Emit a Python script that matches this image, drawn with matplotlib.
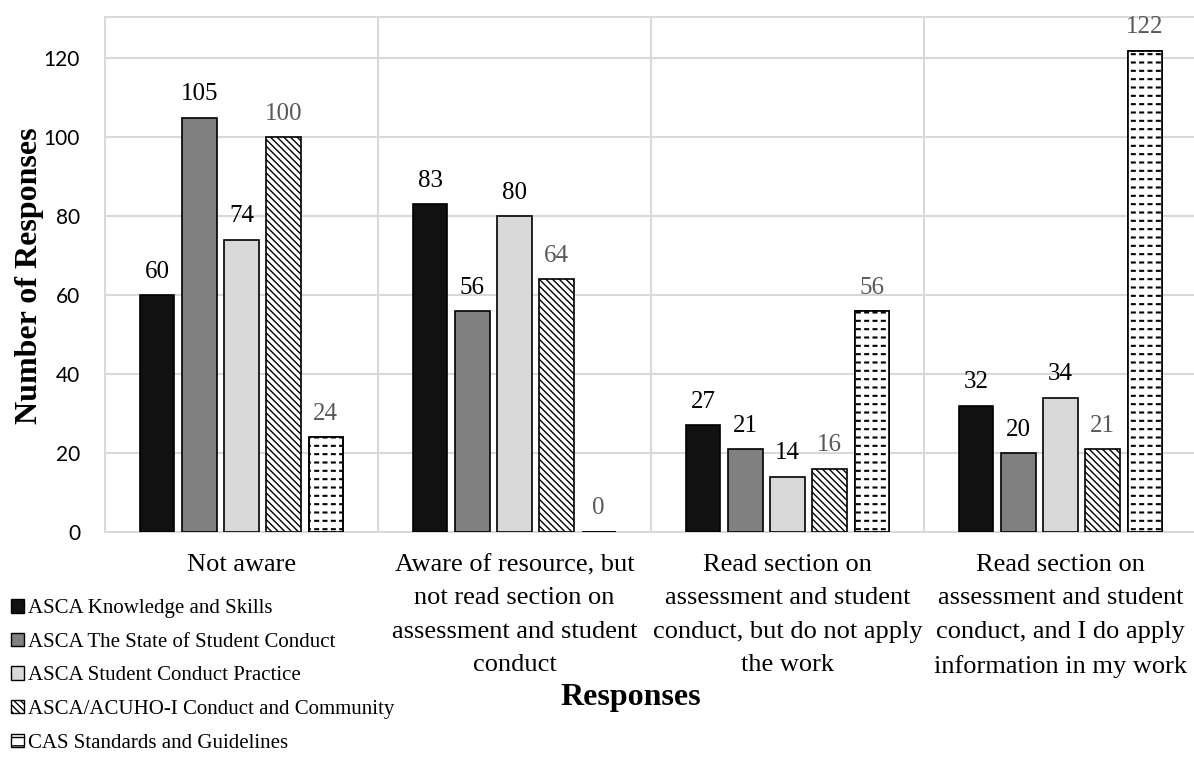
import numpy as np
import matplotlib
matplotlib.use("Agg")
import matplotlib.pyplot as plt
from matplotlib.patches import Patch

# responses per category for each resource
categories = ['Not aware',
              'Aware of resource, but\nnot read section on\nassessment and student\nconduct',
              'Read section on\nassessment and student\nconduct, but do not apply\nthe work',
              'Read section on\nassessment and student\nconduct, and I do apply\ninformation in my work']
series_names = ['ASCA Knowledge and Skills',
                'ASCA The State of Student Conduct',
                'ASCA Student Conduct Practice',
                'ASCA/ACUHO-I Conduct and Community',
                'CAS Standards and Guidelines']
knowledge = [60, 83, 27, 32]
state = [105, 56, 21, 20]
practice = [74, 80, 14, 34]
conduct_comm = [100, 64, 16, 21]
cas = [24, 0, 56, 122]
values = [knowledge, state, practice, conduct_comm, cas]

fills = ['#111111', '#808080', '#d9d9d9', 'white', 'white']
hatches = [None, None, None, '\\\\\\\\\\', '--']
label_colors = ['black', 'black', 'black', '#595959', '#595959']

serif = 'Liberation Serif'
sans = 'Lato'
plt.rcParams['font.family'] = serif

fig = plt.figure(figsize=(11.94, 7.57), dpi=100)
ax = fig.add_axes([105 / 1194, 1 - 532 / 757, 1092 / 1194, 515 / 757])

x = np.arange(len(categories))
step = 0.154
width = 0.125
plt.rcParams['hatch.linewidth'] = 1.0

for i, vals in enumerate(values):
    pos = x + (i - 2) * step
    bars = ax.bar(pos, vals, width, color=fills[i], edgecolor='black',
                  linewidth=1.2, hatch=hatches[i], zorder=3)
    if hatches[i] == '--':
        for b in bars:
            b.set_hatch_linewidth(1.5)
        # break the horizontal lines into dashes with white vertical strokes
        gaps = ax.bar(pos, vals, width, color='none', edgecolor='white',
                      linewidth=0, hatch='||', zorder=4)
        for g in gaps:
            g.set_hatch_linewidth(2.4)
        ax.bar(pos, vals, width, color='none', edgecolor='black',
               linewidth=1.2, zorder=5)
    for p, v in zip(pos, vals):
        ax.annotate(str(v), (p, v), xytext=(0, 9), textcoords='offset points',
                    ha='center', va='bottom', fontsize=18, fontfamily=serif,
                    color=label_colors[i])

ax.set_ylim(0, 130.5)
ax.set_xlim(-0.5, 3.5)
ax.set_yticks(range(0, 121, 20))
ax.set_xticks(x)
ax.set_xticklabels(categories, fontfamily=serif, fontsize=19, linespacing=1.66)
ax.tick_params(axis='x', length=0, pad=16)
ax.tick_params(axis='y', length=0, pad=18, labelsize=15)
for t in ax.get_yticklabels():
    t.set_fontfamily(sans)

ax.yaxis.grid(True, color='#d9d9d9', linewidth=1.5, zorder=0)
ax.set_xticks([0.5, 1.5, 2.5], minor=True)
ax.xaxis.grid(True, which='minor', color='#d9d9d9', linewidth=1.5, zorder=0)
ax.tick_params(axis='x', which='minor', length=0)
for s in ax.spines.values():
    s.set_color('#d9d9d9')
    s.set_linewidth(1.5)

fig.text(30 / 1194, 1 - 276 / 757, 'Number of Responses', fontfamily=serif,
         fontsize=23, fontweight='bold', rotation=90, ha='center', va='center')
fig.text(631 / 1194, 1 - 697 / 757, 'Responses', fontfamily=serif, fontsize=23,
         fontweight='bold', ha='center', va='center')

handles = [Patch(facecolor=fills[i], edgecolor='black', hatch=hatches[i],
                 linewidth=1.0) for i in range(5)]
fig.legend(handles, series_names, loc='upper left',
           bbox_to_anchor=(5 / 1194, 1 - 593 / 757), frameon=False,
           prop={'family': serif, 'size': 15}, handlelength=0.6,
           handleheight=0.6, handletextpad=0.2, labelspacing=0.7,
           borderaxespad=0.0, borderpad=0.3)

fig.savefig('out.png', dpi=100)
